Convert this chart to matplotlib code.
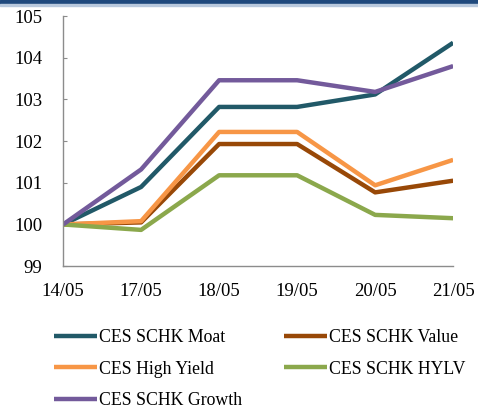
import matplotlib
matplotlib.use("Agg")
import matplotlib.pyplot as plt
from matplotlib.patches import Rectangle

# dates on the x axis
dates = ["14/05", "17/05", "18/05", "19/05", "20/05", "21/05"]

moat = [100.0, 100.90, 102.82, 102.82, 103.12, 104.36]
value = [100.0, 100.05, 101.93, 101.93, 100.77, 101.05]
high_yield = [100.0, 100.08, 102.22, 102.22, 100.94, 101.55]
hylv = [100.0, 99.87, 101.18, 101.18, 100.23, 100.15]
growth = [100.0, 101.32, 103.46, 103.46, 103.18, 103.80]

series = [
    ("CES SCHK Moat", moat, "#215968"),
    ("CES SCHK Value", value, "#984807"),
    ("CES High Yield", high_yield, "#F79646"),
    ("CES SCHK HYLV", hylv, "#8BA84C"),
    ("CES SCHK Growth", growth, "#735A9B"),
]

plt.rcParams["font.family"] = ["Liberation Serif", "DejaVu Serif"]

fig = plt.figure(figsize=(4.78, 4.12), dpi=100)
ax = fig.add_axes([0.132, 0.354, 0.816, 0.607])

x = list(range(len(dates)))
lines = {}
for name, vals, col in series:
    lines[name], = ax.plot(x, vals, color=col, linewidth=3.2, label=name,
                           solid_capstyle="butt")

ax.set_xlim(0, len(dates) - 1)
ax.set_ylim(99, 105)
ax.set_yticks(range(99, 106))
ax.set_xticks(x)
ax.set_xticklabels(dates)
ax.tick_params(axis="both", labelsize=13.5, colors="#000000", length=3, direction="in")
ax.tick_params(axis="x", length=0, pad=12)
ax.tick_params(axis="y", pad=15)
for sp in ["top", "right"]:
    ax.spines[sp].set_visible(False)
for sp in ["left", "bottom"]:
    ax.spines[sp].set_color("#8C8C8C")
    ax.spines[sp].set_linewidth(1.0)
ax.tick_params(axis="y", color="#8C8C8C")

# legend fills column by column, so order it to read row by row
order = ["CES SCHK Moat", "CES High Yield", "CES SCHK Growth",
         "CES SCHK Value", "CES SCHK HYLV"]
fig.legend([lines[n] for n in order], order, loc="upper left",
           bbox_to_anchor=(0.080, 0.24), ncol=2, frameon=False,
           fontsize=12.8, handlelength=2.4, handletextpad=0.1,
           columnspacing=2.4, labelspacing=0.81)

# navy header bar
fig.patches.append(Rectangle((0, 0.99), 1, 0.010, transform=fig.transFigure,
                             color="#1F497D", zorder=5))
fig.patches.append(Rectangle((0, 0.986), 1, 0.004, transform=fig.transFigure,
                             color="#B9C9DD", zorder=5))

fig.savefig("out.png", dpi=100)
